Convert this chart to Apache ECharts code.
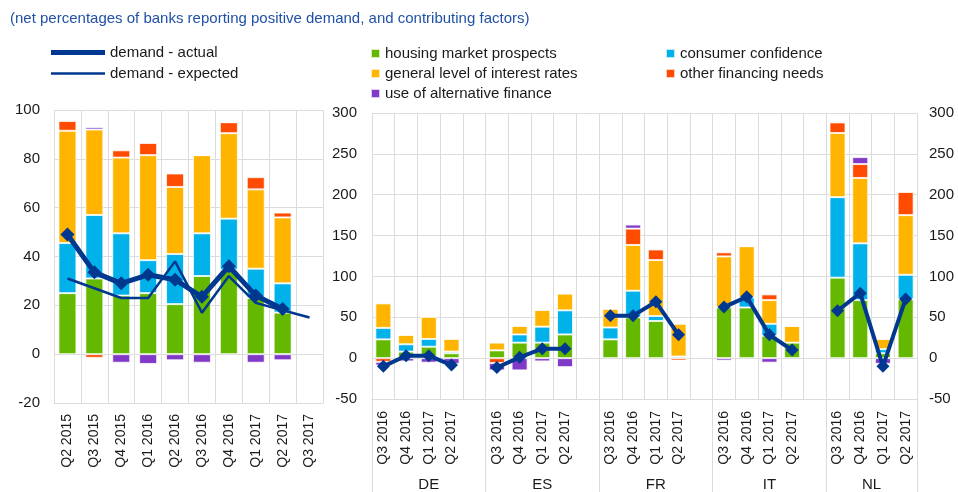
<!DOCTYPE html>
<html>
<head>
<meta charset="utf-8">
<script src="https://cdn.jsdelivr.net/npm/echarts@6/dist/echarts.min.js"></script>
<style>
  html, body { margin: 0; padding: 0; background: #fff; }
  #chart { width: 958px; height: 492px; }
</style>
</head>
<body>
<div id="chart"></div>
<script>
  // left panel: euro area
  const quartersL = ['Q2 2015', 'Q3 2015', 'Q4 2015', 'Q1 2016', 'Q2 2016', 'Q3 2016', 'Q4 2016', 'Q1 2017', 'Q2 2017', 'Q3 2017']
  const housingL = [25, 31, 24, 25, 20.5, 32, 34.5, 23, 17, null]
  const consumerL = [20.5, 26, 25.5, 13.5, 20.5, 17.5, 21, 12, 12, null]
  const interestL = [46, 35, 31, 43, 27.5, 32, 35, 32.5, 27, null]
  const otherL = [4, -1.5, 3, 5, 5.5, 0, 4.5, 5, 2, null]
  const altL = [0.5, 1, -3.5, -4, -2.5, -3.5, 0, -3.5, -2.5, null]
  const actualL = [49, 33.5, 29, 32.5, 30.5, 23.5, 36, 24, 18.5, null]
  const expectedL = [31, 27, 23, 23, 38, 17, 32, 21, 18, 15]

  // right panel: countries, 4 quarters each (DE, ES, FR, IT, NL)
  const countries = ['DE', 'ES', 'FR', 'IT', 'NL']
  const quartersR = ['Q3 2016', 'Q4 2016', 'Q1 2017', 'Q2 2017']
  const housingR = [23, 8, 14, 6, 9.5, 19, 19, 29, 23, 50, 45.5, 0, 62, 62, 27.5, 19, 98.5, 71, 6, 72]
  const consumerR = [14, 9, 9.5, 2, 0, 10, 19.5, 29.5, 14.5, 32.5, 6, 2, 0, 12.5, 14.5, 0, 98.5, 69.5, 5, 30]
  const interestR = [30, 11.5, 27, 15.5, 9.5, 10.5, 20.5, 20.5, 23, 56, 68.5, 40, 62.5, 62.5, 29, 20.5, 78.5, 80, 12.5, 73]
  const otherR = [-4.5, 0, 1, 1, -6, 0, 0, 0, 0, 20, 13, -3, 5, 0, 7, 0, 13, 17, 0, 28.5]
  const altR = [-4.5, -4, -5.5, -7, -9, -15, -4, -11, 0, 5, 0, 0, -3, 0, -5.5, 0, 1.5, 8.5, -7, 0]
  const actualR = [-10, 3, 3, -8.5, -11.5, 1, 11.5, 11.5, 52, 52, 69, 28.5, 62.5, 75, 28.5, 10, 58, 79.5, -10, 72.5]

  const colors = {
    housing: '#65b800',
    consumer: '#00b1ea',
    interest: '#ffb400',
    other: '#ff4b00',
    alt: '#8139c7',
    line: '#00388f'
  }
  const gridColor = '#dcdcdc'
  const textColor = '#1a1a1a'
  const font = 'Liberation Sans, Arial, sans-serif'

  // put an empty slot after each country
  function spread (values, gap) {
    let ans = []
    countries.forEach((c, i) => {
      for (let q = 0; q < quartersR.length; q++) {
        ans.push(values[i * quartersR.length + q])
      }
      if (i < countries.length - 1) ans.push(gap)
    })
    return ans
  }

  const slotLabels = spread(countries.map(() => quartersR).flat(), '')

  // helper axis for country names and separators, half slot resolution
  const groupAxisData = []
  for (let i = 0; i <= slotLabels.length * 2; i++) groupAxisData.push('')
  const groupLabelPos = []
  const groupSepPos = [0]
  let start = 0
  countries.forEach((c, i) => {
    let last = i === countries.length - 1
    let end = start + quartersR.length + (last ? 0 : 1)
    let mid = 2 * start + (last ? quartersR.length : quartersR.length + 1)
    groupLabelPos.push(mid)
    groupSepPos.push(2 * end)
    groupAxisData[mid] = c
    start = end
  })

  const bar = (name, data, color, xi, yi, stack, width) => ({
    name: name,
    type: 'bar',
    stack: stack,
    xAxisIndex: xi,
    yAxisIndex: yi,
    data: data,
    barWidth: width,
    itemStyle: { color: color, borderColor: 'rgba(255,255,255,0.75)', borderWidth: 1 }
  })

  const legendText = { fontSize: 15, color: textColor }

  const myChart = echarts.init(document.getElementById('chart'))
  const option = {
    animation: false,
    textStyle: { fontFamily: font },
    title: {
      text: '(net percentages of banks reporting positive demand, and contributing factors)',
      left: 5,
      top: 6,
      textStyle: { fontSize: 15, fontWeight: 'normal', color: '#2150a8', fontFamily: font }
    },
    legend: [
      {
        data: ['demand - actual'],
        left: 46,
        top: 40,
        icon: 'rect',
        itemWidth: 54,
        itemHeight: 5,
        textStyle: legendText
      },
      {
        data: ['demand - expected'],
        left: 46,
        top: 61,
        icon: 'rect',
        itemWidth: 54,
        itemHeight: 2.5,
        textStyle: legendText
      },
      {
        data: ['housing market prospects', 'general level of interest rates', 'use of alternative finance'],
        orient: 'vertical',
        left: 365,
        top: 41,
        icon: 'rect',
        itemWidth: 9,
        itemHeight: 9,
        itemGap: 5,
        textStyle: legendText
      },
      {
        data: ['consumer confidence', 'other financing needs'],
        orient: 'vertical',
        left: 660,
        top: 41,
        icon: 'rect',
        itemWidth: 9,
        itemHeight: 9,
        itemGap: 5,
        textStyle: legendText
      }
    ],
    grid: [
      { left: 54, top: 110, width: 269, height: 293 },
      { left: 372, top: 113, width: 545, height: 286 }
    ],
    xAxis: [
      {
        type: 'category',
        gridIndex: 0,
        data: quartersL,
        axisLine: { onZero: false, lineStyle: { color: gridColor } },
        axisTick: { show: false },
        axisLabel: { rotate: 90, interval: 0, fontSize: 14, color: textColor, margin: 11 },
        splitLine: { show: true, lineStyle: { color: gridColor } }
      },
      {
        type: 'category',
        gridIndex: 1,
        data: slotLabels,
        axisLine: { onZero: false, lineStyle: { color: gridColor } },
        axisTick: { show: false },
        axisLabel: { rotate: 90, interval: 0, fontSize: 14, color: textColor, margin: 12 },
        splitLine: { show: true, lineStyle: { color: gridColor } }
      },
      {
        type: 'category',
        gridIndex: 1,
        position: 'bottom',
        boundaryGap: false,
        data: groupAxisData,
        axisLine: { show: true, onZero: false, lineStyle: { color: gridColor } },
        axisTick: {
          show: true,
          length: 94,
          interval: (idx) => groupSepPos.includes(idx),
          lineStyle: { color: gridColor }
        },
        axisLabel: {
          interval: (idx) => groupLabelPos.includes(idx),
          fontSize: 15,
          color: textColor,
          margin: 78
        },
        splitLine: { show: false }
      }
    ],
    yAxis: [
      {
        type: 'value',
        gridIndex: 0,
        min: -20,
        max: 100,
        interval: 20,
        axisLabel: { fontSize: 15, color: textColor, margin: 14 },
        splitLine: { lineStyle: { color: gridColor } }
      },
      {
        type: 'value',
        gridIndex: 1,
        position: 'left',
        min: -50,
        max: 300,
        interval: 50,
        axisLabel: { fontSize: 15, color: textColor, margin: 15 },
        splitLine: { lineStyle: { color: gridColor } }
      },
      {
        type: 'value',
        gridIndex: 1,
        position: 'right',
        min: -50,
        max: 300,
        interval: 50,
        axisLabel: { fontSize: 15, color: textColor, margin: 12 },
        splitLine: { show: false }
      }
    ],
    series: [
      bar('housing market prospects', housingL, colors.housing, 0, 0, 'L', 18),
      bar('consumer confidence', consumerL, colors.consumer, 0, 0, 'L', 18),
      bar('general level of interest rates', interestL, colors.interest, 0, 0, 'L', 18),
      bar('other financing needs', otherL, colors.other, 0, 0, 'L', 18),
      bar('use of alternative finance', altL, colors.alt, 0, 0, 'L', 18),
      bar('housing market prospects', spread(housingR, null), colors.housing, 1, 1, 'R', 16),
      bar('consumer confidence', spread(consumerR, null), colors.consumer, 1, 1, 'R', 16),
      bar('general level of interest rates', spread(interestR, null), colors.interest, 1, 1, 'R', 16),
      bar('other financing needs', spread(otherR, null), colors.other, 1, 1, 'R', 16),
      bar('use of alternative finance', spread(altR, null), colors.alt, 1, 1, 'R', 16),
      {
        name: 'demand - expected',
        type: 'line',
        xAxisIndex: 0,
        yAxisIndex: 0,
        data: expectedL,
        symbol: 'none',
        lineStyle: { color: colors.line, width: 2.5 },
        itemStyle: { color: colors.line }
      },
      {
        name: 'demand - actual',
        type: 'line',
        xAxisIndex: 0,
        yAxisIndex: 0,
        data: actualL,
        symbol: 'diamond',
        symbolSize: 14,
        lineStyle: { color: colors.line, width: 5 },
        itemStyle: { color: colors.line }
      },
      {
        name: 'demand - actual',
        type: 'line',
        xAxisIndex: 1,
        yAxisIndex: 1,
        data: spread(actualR, null),
        connectNulls: false,
        symbol: 'diamond',
        symbolSize: 13,
        lineStyle: { color: colors.line, width: 4 },
        itemStyle: { color: colors.line }
      }
    ]
  }
  myChart.setOption(option)
</script>
</body>
</html>
